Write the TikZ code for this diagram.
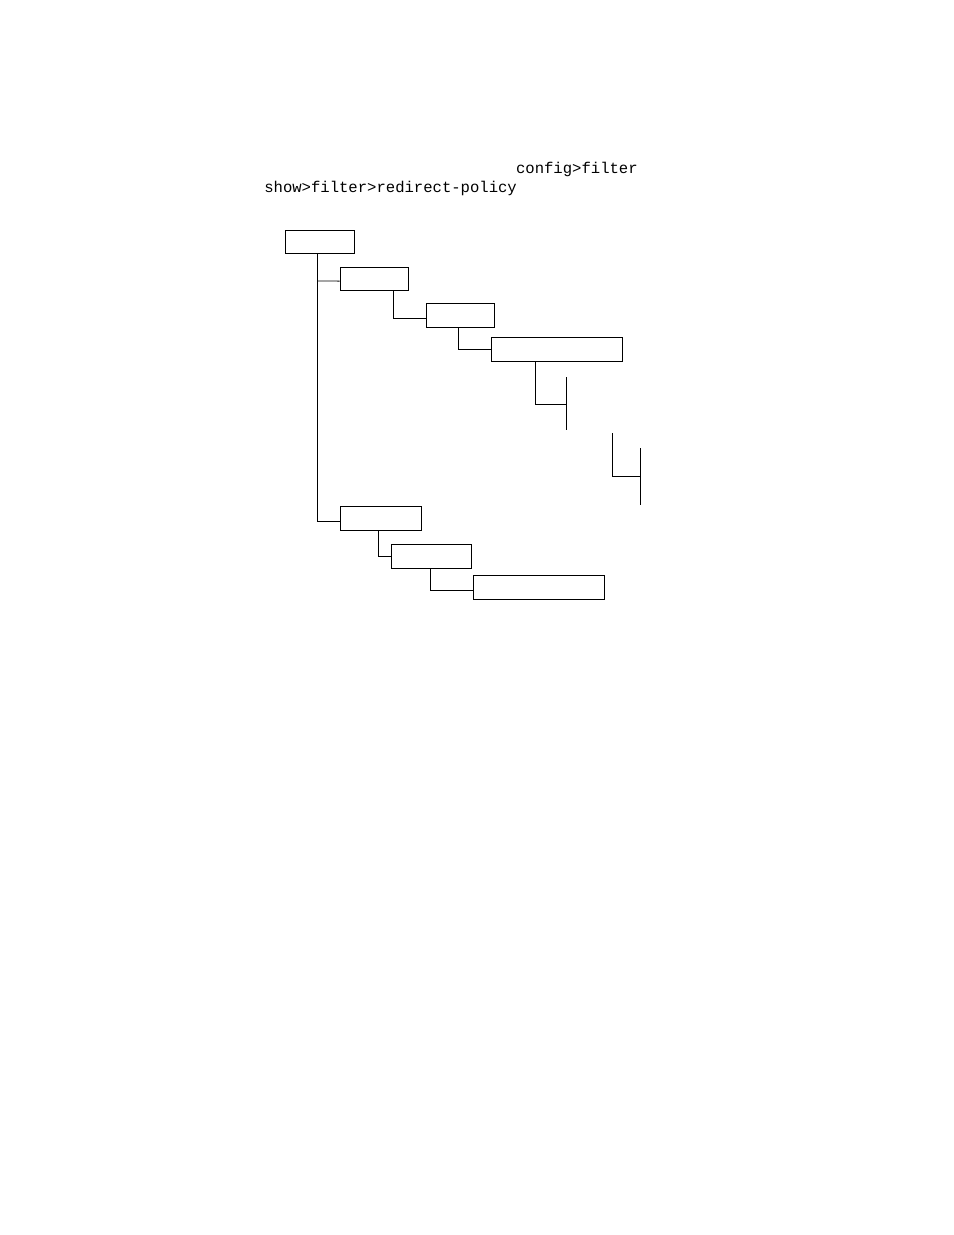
\documentclass[tikz,border=0pt]{standalone}
\usepackage{fontspec}
\setmonofont{Liberation Mono}
\tikzset{
    box/.style={draw, line width=0.6pt, minimum height=15pt, inner sep=0pt},
    link/.style={line width=0.6pt},
    cmd/.style={font=\ttfamily, inner sep=0pt}
}
\begin{document}
\begin{tikzpicture}[x=0.6415pt, y=-0.6415pt]
    \useasboundingbox (0,0) rectangle (954,1235);
    \node[cmd, anchor=base east] (cfg) at (638,173) {config>filter};
    \node[cmd, anchor=base west] (show) at (264,192) {show>filter>redirect-policy};
    \node[box, minimum width=44.3pt] (root) at (319.5,242) {};
    \node[box, minimum width=43.6pt] (lvlA) at (374,279) {};
    \node[box, minimum width=43.6pt] (lvlB) at (460,315.5) {};
    \node[box, minimum width=84pt] (lvlC) at (556.5,349.5) {};
    \node[box, minimum width=52pt] (lvlD) at (380.5,518.5) {};
    \node[box, minimum width=51.3pt] (lvlE) at (431,556.5) {};
    \node[box, minimum width=84pt] (lvlF) at (538.5,587.5) {};
    \coordinate (brA) at (566,404);
    \coordinate (srcB) at (612,433);
    \coordinate (brB) at (640,476);
    \draw[link] ([xshift=-1pt]root.south) |- ([yshift=-1.6pt]lvlD.west);
    \draw[link] ([xshift=-1pt]root.south |- lvlA.west) ++(0,2) -- ([yshift=-1.3pt]lvlA.west);
    \draw[link] ([xshift=12.2pt]lvlA.south) |- ([yshift=-1.6pt]lvlB.west);
    \draw[link] ([xshift=-1.3pt]lvlB.south) |- (lvlC.west);
    \draw[link] ([xshift=-13.8pt]lvlC.south) |- (brA);
    \draw[link] (brA) ++(0,-27) -- ++(0,53);
    \draw[link] (srcB) |- (brB);
    \draw[link] (brB) ++(0,-28) -- ++(0,57);
    \draw[link] ([xshift=-1pt]lvlD.south) |- (lvlE.west);
    \draw[link] ([xshift=-0.6pt]lvlE.south) |- ([yshift=-2.2pt]lvlF.west);
\end{tikzpicture}
\end{document}
